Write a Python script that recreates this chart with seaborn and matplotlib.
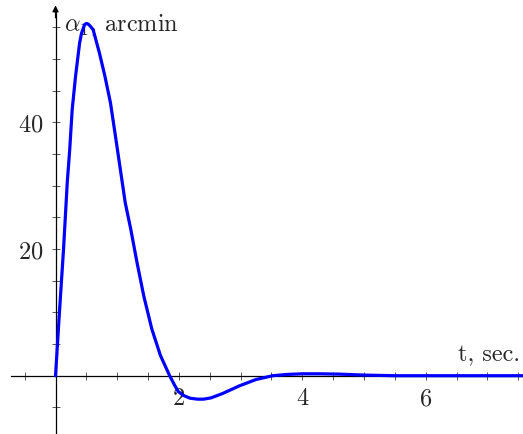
import numpy as np
import matplotlib
matplotlib.use("Agg")
import matplotlib.pyplot as plt
from matplotlib.ticker import FixedLocator
import seaborn as sns

# Data
t = [0, 0.06, 0.13, 0.19, 0.23, 0.27, 0.325, 0.39, 0.42, 0.47, 0.5, 0.53, 0.57,
     0.61, 0.71, 0.80, 0.89, 0.97, 1.05, 1.13, 1.22, 1.32, 1.43, 1.56, 1.70,
     1.85, 1.93, 1.99, 2.07, 2.18, 2.3, 2.4, 2.52, 2.71, 2.98, 3.25, 3.52,
     3.75, 4.0, 4.3, 4.6, 5.0, 5.5, 6.0, 7.0, 7.7]
alpha = [0, 9.5, 20, 30.5, 35.7, 42, 47.3, 52.5, 54.0, 55.4, 55.6, 55.5, 55.1,
         54.6, 51.0, 47.3, 43.1, 37.9, 32.6, 27.3, 23.1, 17.9, 12.6, 7.4, 3.2,
         0, -1.5, -2.5, -3.1, -3.55, -3.7, -3.7, -3.5, -2.8, -1.6, -0.6, 0,
         0.2, 0.3, 0.3, 0.25, 0.1, 0.0, 0, 0, 0]

x_major = [2, 4, 6]
x_minor = [-0.5, 0.5, 1, 1.5, 2.5, 3, 3.5, 4.5, 5, 5.5, 6.5, 7, 7.5]
y_major = [20, 40]
y_minor = [-5, 5, 10, 15, 25, 30, 35, 45, 50, 55]

sns.set_style("white")
plt.rcParams["font.family"] = ["cmr10", "DejaVu Serif"]
plt.rcParams["mathtext.fontset"] = "cm"
plt.rcParams["axes.formatter.use_mathtext"] = True

fig = plt.figure(figsize=(5.23, 4.35), dpi=100)
ax = fig.add_axes([0, 0, 1, 1])

sns.lineplot(x=np.array(t), y=np.array(alpha), ax=ax, color="#0000ff",
             linewidth=2.3, zorder=5)

ax.set_xlim(-0.90, 7.577)
ax.set_ylim(-9.2, 59.46)

for s in ["top", "right"]:
    ax.spines[s].set_visible(False)
ax.spines["left"].set_position(("data", 0))
ax.spines["bottom"].set_position(("data", 0))
ax.spines["left"].set_bounds(-9.2, 57.5)
ax.spines["bottom"].set_bounds(-0.72, 7.577)
for s in ["left", "bottom"]:
    ax.spines[s].set_linewidth(0.9)
    ax.spines[s].set_color("black")

ax.annotate("", xy=(0, 58.45), xytext=(0, 56.5),
            arrowprops=dict(arrowstyle="-|>", lw=0.9, color="black",
                            mutation_scale=9, shrinkA=0, shrinkB=0))

ax.xaxis.set_major_locator(FixedLocator(x_major))
ax.xaxis.set_minor_locator(FixedLocator(x_minor))
ax.yaxis.set_major_locator(FixedLocator(y_major))
ax.yaxis.set_minor_locator(FixedLocator(y_minor))

ax.tick_params(which="both", bottom=True, left=True, top=False, right=False,
               direction="inout", length=5.5, width=0.65,
               color="0.3", labelsize=17.5)
ax.tick_params(axis="x", which="major", pad=5.5)
ax.tick_params(axis="y", which="major", pad=6)

ax.set_xlabel("")
ax.set_ylabel("")

ax.text(520 / 523, 1 - 361.5 / 435, "t, sec.", transform=ax.transAxes,
        ha="right", va="baseline", fontsize=17.5)
ax.text(64 / 523, 1 - 31 / 435, r"$\alpha_1$, arcmin", transform=ax.transAxes,
        ha="left", va="baseline", fontsize=17.5, zorder=1)

fig.savefig("out.png", dpi=100)
